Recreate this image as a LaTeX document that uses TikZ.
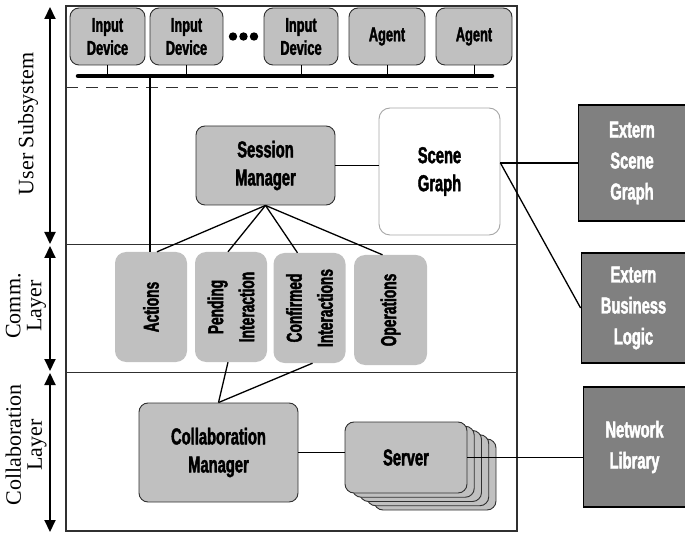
\documentclass[tikz,border=0pt]{standalone}
\usepackage{fontspec}
\setmainfont{Liberation Serif}
\newfontfamily\bxf{Liberation Sans Bold}[FakeStretch=0.64, FakeBold=1.8]
\usetikzlibrary{arrows.meta,calc}
\definecolor{lg}{HTML}{C0C0C0}
\definecolor{dg}{HTML}{808080}
\definecolor{fr}{HTML}{303030}
\begin{document}
\begin{tikzpicture}[x=1pt,y=-1pt,
  boxtxt/.style={font=\bxf\fontsize{23}{28}\selectfont, align=center, inner sep=0pt},
  gbox/.style={boxtxt, rounded corners=9pt, draw=fr, line width=0.9pt, fill=lg},
  topbox/.style={gbox, font=\bxf\fontsize{20}{23}\selectfont, minimum width=75pt, minimum height=57pt},
  combox/.style={boxtxt, font=\bxf\fontsize{21.5}{31}\selectfont, rounded corners=11pt, fill=lg, minimum height=72pt, minimum width=110pt, rotate=90},
  extbox/.style={boxtxt, draw=black, line width=1.8pt, fill=dg, text=white, font=\bxf\fontsize{23}{31}\selectfont},
  conn/.style={line width=1.3pt, black},
  axis/.style={line width=2pt, {Triangle[length=12pt,width=11pt]}-{Triangle[length=12pt,width=11pt]}},
  lbl/.style={rotate=90, align=center, font=\fontsize{22}{21}\selectfont, inner sep=0pt}
]
\useasboundingbox (0,0) rectangle (685,534);
% frame
\draw[fr, line width=1.3pt] (66,6) rectangle (517,531);
\draw[fr, line width=1pt] (66,244.5) -- (517,244.5);
\draw[fr, line width=1pt] (66,372) -- (517,372);
\draw[fr, line width=0.9pt, dash pattern=on 12pt off 8pt] (66,87) -- (517,87);
% axis
\draw[axis] (50,7) -- (50,244);
\draw[axis] (50,246) -- (50,371);
\draw[axis] (50,373) -- (50,532);
\node[lbl] (lu) at (28,124) {User Subsystem};
\node[lbl] (lc) at (26,306) {Comm.\\Layer};
\node[lbl] (ll) at (26,445) {Collaboration\\Layer};
% top row
\node[topbox] (id1) at (107.5,36.5) {Input\\Device};
\node[topbox, minimum width=73pt] (id2) at (186.5,36.5) {Input\\Device};
\node[topbox, minimum width=74pt] (id3) at (301,36.5) {Input\\Device};
\node[topbox, minimum width=76pt] (ag1) at (387,36.5) {Agent};
\node[topbox, minimum width=76pt] (ag2) at (474,36.5) {Agent};
\foreach \i/\xx in {1/233,2/243.5,3/254}
  \fill (\xx,36.5) circle (4.2pt);
\coordinate (busL) at (78,76);
\coordinate (busR) at (492,76);
\foreach \n in {id1,id2,id3,ag1,ag2}
  \draw[line width=0.9pt] (\n.south) -- (\n.south |- busL);
\draw[line width=4.5pt, line cap=round] (busL) -- (busR);
% session manager and scene graph
\node[gbox, minimum width=139pt, minimum height=79pt] (sm) at (265.5,165.5) {Session\\Manager};
\node[boxtxt, rounded corners=11pt, draw=gray!70, line width=0.9pt, fill=white, minimum width=121pt, minimum height=127pt] (sg) at (439.5,171.5) {Scene\\Graph};
\node[extbox, minimum width=107pt, minimum height=116pt] (esg) at (632,163) {Extern\\Scene\\Graph};
\node[extbox, minimum width=104pt, minimum height=110pt] (ebl) at (633.5,308) {Extern\\Business\\Logic};
\node[extbox, minimum width=102pt, minimum height=120pt] (nl) at (634.5,447) {Network\\Library};
% comm boxes
\node[combox] (act) at (151,307) {Actions};
\node[combox] (pen) at (231,307) {Pending\\Interaction};
\node[combox] (con) at (309.5,308) {Confirmed\\Interactions};
\node[combox, minimum height=73pt] (ops) at (390.5,310) {Operations};
% collaboration
\node[gbox, minimum width=159pt, minimum height=99pt] (cm) at (218.5,452.5) {Collaboration\\Manager};
\foreach \k in {4,3,2,1}
  \draw[fr, line width=0.9pt, fill=lg, rounded corners=9pt]
    ($(345,422)+(7.25*\k,4.25*\k)$) rectangle ++(122,71);
\node[gbox, minimum width=122pt, minimum height=71pt] (srv) at (406,457.5) {Server};
% connectors
\coordinate (bustap) at (150,76);
\draw[conn] (bustap) -- (act.east -| bustap);
\draw[conn] (sm.south) -- ([xshift=6pt]act.east);
\draw[conn] (sm.south) -- ([xshift=-3pt]pen.east);
\draw[conn] (sm.south) -- ([xshift=-12pt]con.east);
\draw[conn] (sm.south) -- ([xshift=-8pt]ops.east);
\draw[conn] ([xshift=-3pt]pen.west) -- (cm.north);
\draw[conn] ([xshift=3pt]con.west) -- (cm.north);
\draw[conn] (sm.east) -- (sm.east -| sg.west);
\coordinate (sgr) at (sg.east |- esg.west);
\draw[conn] (sgr) -- (esg.west);
\draw[conn] (sgr) -- (ebl.west);
\draw[conn] (cm.east) -- (cm.east -| srv.west);
\draw[conn] (srv.east) -- (srv.east -| nl.west);
\end{tikzpicture}
\end{document}
